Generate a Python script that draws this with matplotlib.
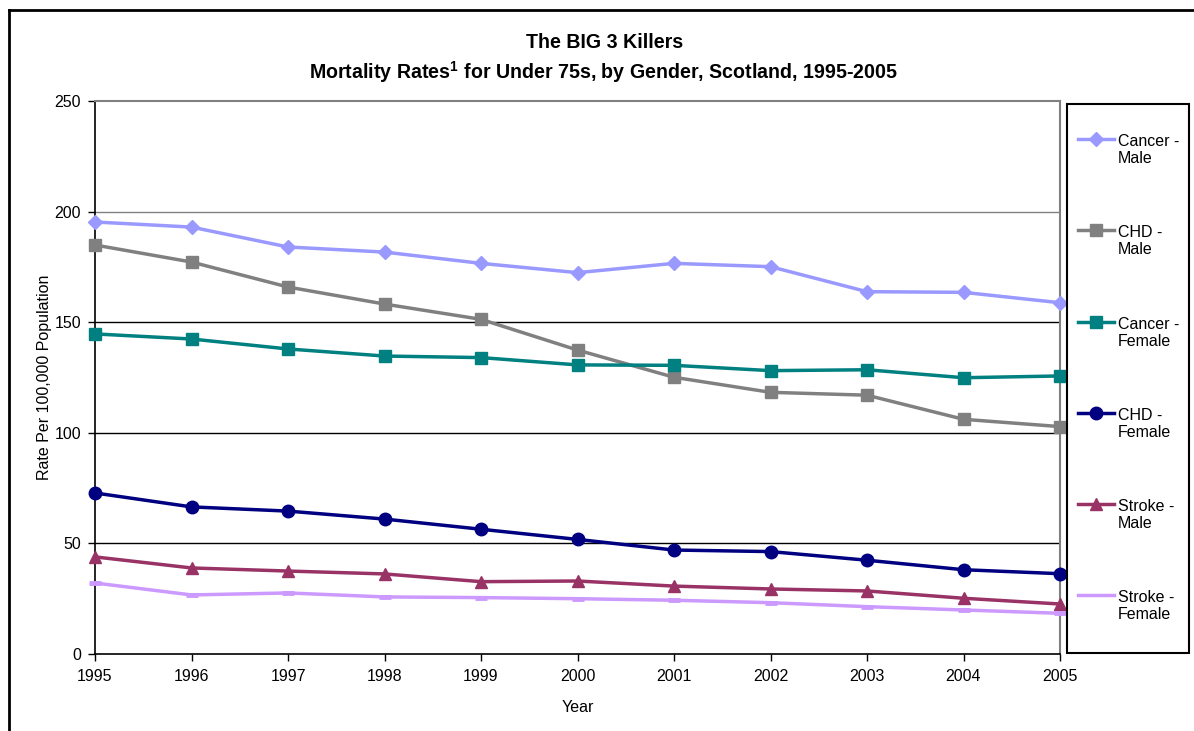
import matplotlib
matplotlib.use("Agg")
import matplotlib.pyplot as plt
from matplotlib.lines import Line2D
from matplotlib.patches import Rectangle

plt.rcParams['font.family'] = ['Liberation Sans', 'DejaVu Sans']
plt.rcParams['mathtext.fontset'] = 'custom'
plt.rcParams['mathtext.rm'] = 'Liberation Sans'
plt.rcParams['mathtext.bf'] = 'Liberation Sans:bold'

years = [1995, 1996, 1997, 1998, 1999, 2000, 2001, 2002, 2003, 2004, 2005]
cancer_male = [195.3, 193.0, 184.0, 181.7, 176.6, 172.4, 176.6, 175.1, 163.8, 163.5, 158.8]
chd_male = [184.9, 177.2, 165.9, 158.2, 151.3, 137.4, 125.1, 118.3, 117.0, 106.1, 102.8]
cancer_female = [144.7, 142.4, 137.9, 134.7, 134.0, 130.7, 130.5, 128.1, 128.5, 124.9, 125.7]
chd_female = [72.8, 66.5, 64.6, 61.0, 56.4, 51.8, 47.0, 46.3, 42.4, 38.1, 36.3]
stroke_male = [43.9, 38.9, 37.5, 36.2, 32.7, 33.0, 30.7, 29.4, 28.5, 25.2, 22.6]
stroke_female = [32.1, 26.7, 27.6, 25.8, 25.5, 25.0, 24.3, 23.2, 21.4, 19.9, 18.4]

series_labels = ["Cancer -\nMale", "CHD -\nMale", "Cancer -\nFemale",
                 "CHD -\nFemale", "Stroke -\nMale", "Stroke -\nFemale"]
y_ticks = [0, 50, 100, 150, 200, 250]

W, H = 1194, 731
fig = plt.figure(figsize=(W / 100, H / 100), dpi=100)
fig.patch.set_facecolor('white')

def fx(px):
    return px / W

def fy(py):
    return 1 - py / H

ax_l, ax_r, ax_t, ax_b = 95, 1060, 101, 654
ax = fig.add_axes([fx(ax_l), fy(ax_b), (ax_r - ax_l) / W, (ax_b - ax_t) / H])

styles = [
    dict(color='#9999FF', marker='D', ms=7.5),
    dict(color='#808080', marker='s', ms=8.5),
    dict(color='#008080', marker='s', ms=8.5),
    dict(color='#000080', marker='o', ms=9),
    dict(color='#993366', marker='^', ms=9),
    dict(color='#CC99FF', marker='_', ms=9, mew=3.5),
]
all_series = [cancer_male, chd_male, cancer_female, chd_female, stroke_male, stroke_female]

# gridlines
for v in y_ticks[1:-1]:
    ax.axhline(v, color='#808080' if v == 200 else 'black', lw=1.0, zorder=1)

for vals, st in zip(all_series, styles):
    kw = dict(st)
    ax.plot(years, vals, lw=2.5, clip_on=False, zorder=3, **kw)

ax.set_xlim(1995, 2005)
ax.set_ylim(0, 250)
ax.set_xticks(years)
ax.set_yticks(y_ticks)
ax.tick_params(axis='both', direction='out', length=5, width=1, labelsize=11.5, color='black')
ax.tick_params(axis='x', pad=6)
ax.tick_params(axis='y', pad=5)
for s in ['left', 'bottom']:
    ax.spines[s].set_color('black')
    ax.spines[s].set_linewidth(1.2)
for s in ['top', 'right']:
    ax.spines[s].set_color('#808080')
    ax.spines[s].set_linewidth(1.5)

ax.set_xlabel('Year', fontsize=11.5, labelpad=11)
ax.set_ylabel('Rate Per 100,000 Population', fontsize=11.5, labelpad=2)

# titles
fig.text(fx(605), fy(43), 'The BIG 3 Killers', ha='center', va='center',
         fontsize=14.1, fontweight='bold')
fig.text(fx(604), fy(72), r'Mortality Rates$^{\mathbf{1}}$ for Under 75s, by Gender, Scotland, 1995-2005',
         ha='center', va='center', fontsize=14.1, fontweight='bold')

# legend box
fig.add_artist(Rectangle((fx(1067), fy(653)), (1189 - 1067) / W, (653 - 104) / H,
                         transform=fig.transFigure, fill=False, edgecolor='black', lw=1.5))
entry_y = [139, 230, 322, 413, 504, 595]
for lab, st, yy in zip(series_labels, styles, entry_y):
    kw = dict(st)
    mk = kw.pop('marker')
    ms = kw.pop('ms')
    mew = kw.pop('mew', 1)
    fig.add_artist(Line2D([fx(1078), fx(1114)], [fy(yy), fy(yy)], transform=fig.transFigure,
                          lw=2.5, color=kw['color']))
    if mk != '_':
        fig.add_artist(Line2D([fx(1096)], [fy(yy)], transform=fig.transFigure,
                              marker=mk, ms=ms, mew=mew, color=kw['color'], lw=0))
    fig.text(fx(1118), fy(yy + 11), lab, ha='left', va='center', fontsize=11.5, linespacing=1.1)

# outer border
fig.add_artist(Line2D([fx(8.5), fx(8.5)], [fy(10), 0], transform=fig.transFigure, color='black', lw=2))
fig.add_artist(Line2D([fx(8.5), 1], [fy(10), fy(10)], transform=fig.transFigure, color='black', lw=2))

fig.savefig('out.png', dpi=100)
